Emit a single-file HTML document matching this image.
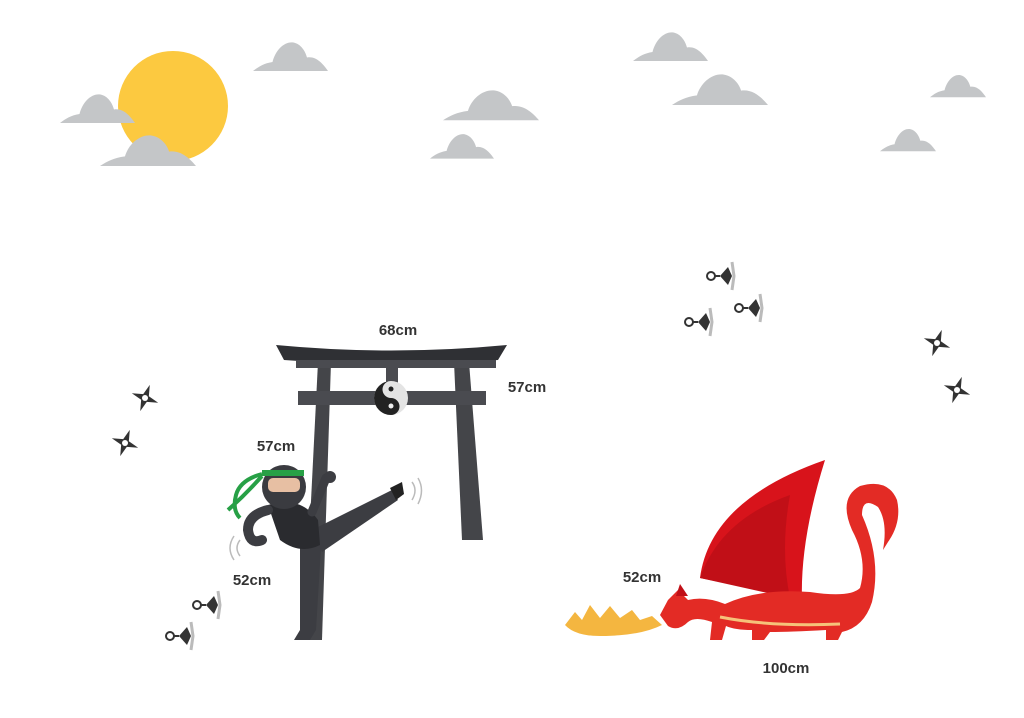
<!DOCTYPE html>
<html><head><meta charset="utf-8"><style>
html,body{margin:0;padding:0;background:#fff;width:1024px;height:718px;overflow:hidden}
text{font-family:"Liberation Sans",sans-serif;font-weight:bold;font-size:15px;fill:#333}
</style></head><body>
<svg width="1024" height="718" viewBox="0 0 1024 718" xmlns="http://www.w3.org/2000/svg">
<defs>
<path id="cl" d="M0,40 C8,34 14,30 26,28 C30,12 42,0 54,2 C64,4 70,14 72,22 C84,20 93,30 100,40 Z" fill="#c4c6c8"/>
<g id="sh">
<path d="M8,-14 L10,0 L8,14" stroke="#bbb" stroke-width="3" fill="none"/>
<path d="M-4,0 L4,-9 L8,0 L4,9 Z" fill="#333"/>
<line x1="-10" y1="0" x2="-4" y2="0" stroke="#333" stroke-width="2"/>
<circle cx="-13" cy="0" r="4" fill="none" stroke="#333" stroke-width="2"/>
</g>
<g id="st">
<path d="M0,-14 L3,-3 L14,0 L3,3 L0,14 L-3,3 L-14,0 L-3,-3 Z" fill="#333" transform="rotate(20)"/>
<circle r="3" fill="#fff"/>
</g>
</defs>
<circle cx="173" cy="106" r="55" fill="#fcc940"/>
<use href="#cl" transform="translate(60,93) scale(0.75,0.75)"/>
<use href="#cl" transform="translate(100,134) scale(0.96,0.8)"/>
<use href="#cl" transform="translate(253,41) scale(0.75,0.75)"/>
<use href="#cl" transform="translate(443,89) scale(0.96,0.78)"/>
<use href="#cl" transform="translate(430,133) scale(0.64,0.64)"/>
<use href="#cl" transform="translate(633,31) scale(0.75,0.75)"/>
<use href="#cl" transform="translate(672,73) scale(0.96,0.8)"/>
<use href="#cl" transform="translate(930,74) scale(0.56,0.58)"/>
<use href="#cl" transform="translate(880,128) scale(0.56,0.58)"/>
<!-- torii -->
<path d="M318,362 L331,362 L322,640 L304,640 Z" fill="#444549"/>
<path d="M454,362 L469,362 L483,540 L462,540 Z" fill="#444549"/>
<path d="M276,345 Q391,356 507,345 L498,360 Q391,368 284,360 Z" fill="#2f3034"/>
<rect x="296" y="360" width="200" height="8" fill="#4a4b50"/>
<rect x="298" y="391" width="188" height="14" fill="#4a4b50"/>
<rect x="386" y="368" width="12" height="24" fill="#4a4b50"/>
<circle cx="391" cy="398" r="17" fill="#e4e4e4"/>
<path d="M391,381 A17,17 0 0 0 391,415 A8.5,8.5 0 0 0 391,398 A8.5,8.5 0 0 1 391,381 Z" fill="#222"/>
<circle cx="391" cy="389" r="2.5" fill="#222"/><circle cx="391" cy="406" r="2.5" fill="#eee"/>
<!-- ninja -->
<path d="M300,530 L322,530 L316,630 L310,640 L294,640 L300,630 Z" fill="#3c3d42"/>
<path d="M312,530 L392,490 L398,500 L322,552 Z" fill="#3c3d42"/>
<path d="M390,488 L402,482 L404,494 L396,500 Z" fill="#222"/>
<path d="M268,505 Q300,495 318,520 L320,545 Q300,555 280,540 Z" fill="#2a2b2f"/>
<path d="M268,510 Q248,515 248,530 Q250,545 262,540" stroke="#3c3d42" stroke-width="10" fill="none" stroke-linecap="round"/>
<path d="M312,512 L326,478" stroke="#3c3d42" stroke-width="9" stroke-linecap="round"/>
<circle cx="330" cy="477" r="6" fill="#3c3d42"/>
<circle cx="284" cy="487" r="22" fill="#3a3b40"/>
<rect x="268" y="478" width="32" height="14" rx="5" fill="#e7bfa3"/>
<rect x="262" y="470" width="42" height="6" fill="#27a046"/>
<path d="M262,474 Q240,480 236,495 Q232,510 240,518 M262,476 Q245,495 228,510" stroke="#27a046" stroke-width="4" fill="none"/>
<path d="M240,540 Q234,548 240,556 M234,536 Q226,548 234,560" stroke="#bbb" stroke-width="1.5" fill="none"/>
<path d="M412,482 Q418,490 412,500 M418,478 Q425,490 418,504" stroke="#bbb" stroke-width="1.5" fill="none"/>
<!-- dragon -->
<path d="M565,625 L575,612 L582,620 L590,605 L600,618 L610,606 L620,618 L632,610 L640,620 L652,616 L662,625 Q640,636 600,636 Q575,636 565,625 Z" fill="#f4b640"/>
<path d="M700,578 Q710,500 825,460 Q800,540 802,600 Q760,590 700,578 Z" fill="#d8131b"/>
<path d="M700,578 Q720,520 790,495 Q780,550 790,598 Z" fill="#c10f17"/>
<path d="M660,615 L668,600 L678,590 L688,600 Q705,596 725,604 Q760,588 810,592 Q850,598 860,588 Q868,560 852,530 Q838,498 860,486 Q888,478 897,500 Q902,522 888,542 L883,550 Q888,522 878,507 Q862,496 862,515 Q882,560 872,602 Q864,627 842,632 L838,640 L826,640 L826,630 Q790,632 770,632 L764,640 L752,640 L752,630 Q735,630 726,626 L722,640 L710,640 L712,622 Q695,616 688,622 Q678,632 668,626 Z" fill="#e32b25"/>
<path d="M676,596 L680,584 L688,596 Z" fill="#c10f17"/>
<path d="M720,617 Q770,627 840,624" stroke="#f6c27a" stroke-width="3" fill="none"/>
<!-- shuriken -->
<use href="#st" transform="translate(145,398)"/>
<use href="#st" transform="translate(125,443)"/>
<use href="#st" transform="translate(937,343)"/>
<use href="#st" transform="translate(957,390)"/>
<use href="#sh" transform="translate(724,276)"/>
<use href="#sh" transform="translate(752,308)"/>
<use href="#sh" transform="translate(702,322)"/>
<use href="#sh" transform="translate(210,605)"/>
<use href="#sh" transform="translate(183,636)"/>
<!-- labels -->
<text x="398" y="335" text-anchor="middle">68cm</text>
<text x="527" y="392" text-anchor="middle">57cm</text>
<text x="276" y="451" text-anchor="middle">57cm</text>
<text x="252" y="585" text-anchor="middle">52cm</text>
<text x="642" y="582" text-anchor="middle">52cm</text>
<text x="786" y="673" text-anchor="middle">100cm</text>
</svg>
</body></html>
